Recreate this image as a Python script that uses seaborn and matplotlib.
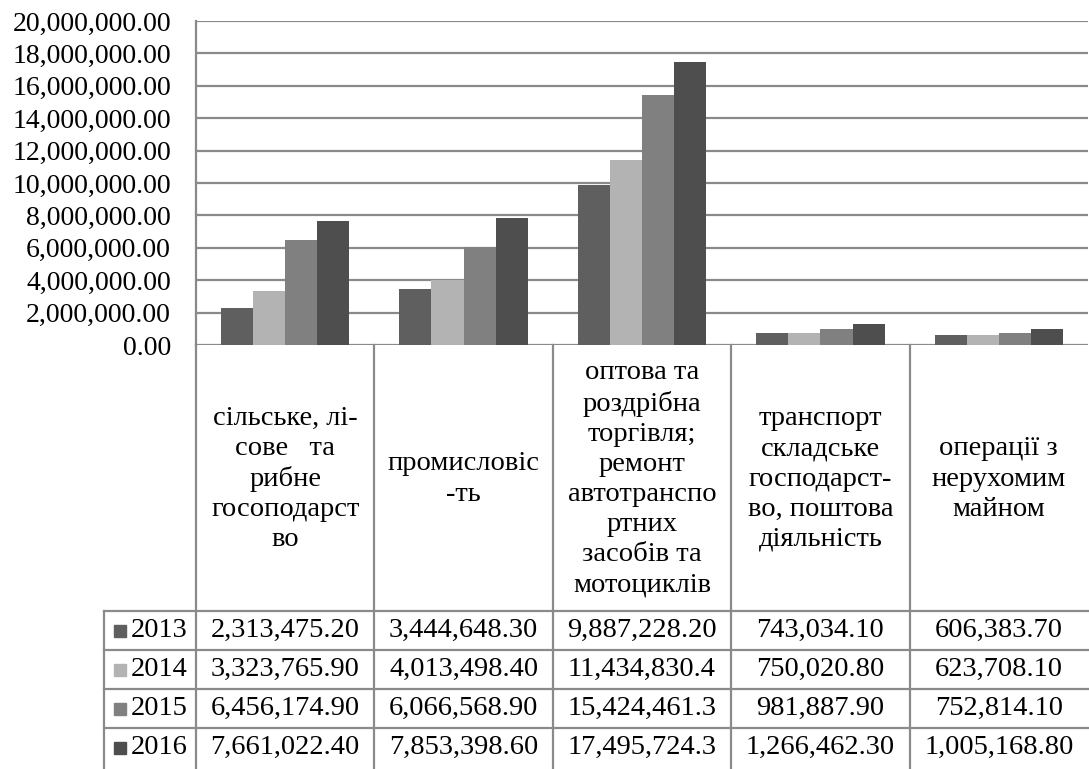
import matplotlib
matplotlib.use("Agg")
import matplotlib.pyplot as plt
import matplotlib.transforms as mtransforms
from matplotlib import font_manager
from matplotlib.ft2font import FT2Font
from matplotlib.ticker import FuncFormatter, MultipleLocator
import seaborn as sns
import pandas as pd

# ---------------- data ----------------
categories = [
    "сільське, лі-\nсове   та\nрибне\nгосоподарст\nво",
    "промисловіс\n-ть",
    "оптова та\nроздрібна\nторгівля;\nремонт\nавтотранспо\nртних\nзасобів та\nмотоциклів",
    "транспорт\nскладське\nгосподарст-\nво, поштова\nдіяльність",
    "операції з\nнерухомим\nмайном",
]
years = ["2013", "2014", "2015", "2016"]
v2013 = [2313475.20, 3444648.30, 9887228.20, 743034.10, 606383.70]
v2014 = [3323765.90, 4013498.40, 11434830.40, 750020.80, 623708.10]
v2015 = [6456174.90, 6066568.90, 15424461.30, 981887.90, 752814.10]
v2016 = [7661022.40, 7853398.60, 17495724.30, 1266462.30, 1005168.80]
series = [v2013, v2014, v2015, v2016]
colors = ["#5f5f5f", "#b3b3b3", "#808080", "#4e4e4e"]

rows = []
for y, vals in zip(years, series):
    for i, v in enumerate(vals):
        rows.append({"cat": i, "year": y, "value": v})
df = pd.DataFrame(rows)

# pick a serif family that really has Cyrillic glyphs
def has_cyr(name):
    try:
        path = font_manager.findfont(font_manager.FontProperties(family=name),
                                     fallback_to_default=False)
        f = FT2Font(path)
        return all(f.get_char_index(ord(ch)) != 0 for ch in "піїль")
    except Exception:
        return False

serif = "Liberation Serif"
for cand in ["Liberation Serif", "Tinos", "Times New Roman", "Noto Serif",
             "DejaVu Serif", "FreeSerif"]:
    if has_cyr(cand):
        serif = cand
        break

# ---------------- figure ----------------
plt.rcParams["font.family"] = [serif, "DejaVu Serif", "DejaVu Sans"]
W, H = 1089, 769
fig = plt.figure(figsize=(W / 100, H / 100), dpi=100)
ax_l, ax_r, ax_t, ax_b = 196, 1088, 21, 345
ax = fig.add_axes([ax_l / W, 1 - ax_b / H, (ax_r - ax_l) / W, (ax_b - ax_t) / H])

sns.barplot(data=df, x="cat", y="value", hue="year", palette=colors,
            width=0.72, saturation=1, ax=ax, legend=False,
            edgecolor="none", linewidth=0)

FS_TICK = 20
FS = 20.5
grid_c = "#8a8a8a"
ax.set_xlim(-0.5, len(categories) - 0.5)
ax.set_ylim(0, 20_000_000)
ax.yaxis.set_major_locator(MultipleLocator(2_000_000))
ax.yaxis.set_major_formatter(FuncFormatter(lambda v, p: f"{v:,.2f}"))
ax.yaxis.grid(True, color=grid_c, lw=1.6)
ax.set_axisbelow(True)
ax.tick_params(axis="y", length=0, pad=18, labelsize=FS_TICK, labelcolor="black")
ax.tick_params(axis="x", length=0, labelbottom=False)
ax.set_xlabel("")
ax.set_ylabel("")
for s in ["top", "right", "bottom"]:
    ax.spines[s].set_visible(False)
ax.spines["left"].set_color(grid_c)
ax.spines["left"].set_linewidth(1.6)

# ---------------- data table ----------------
ph = ax_b - ax_t  # axes height in px
def ay(py):
    return (ax_b - py) / ph

blend = mtransforms.blended_transform_factory(ax.transData, ax.transAxes)
axfrac = ax.transAxes

header_bottom = 611
row_h = 39
row_edges = [header_bottom + k * row_h for k in range(len(years) + 1)]
fig_bottom = H
leg_left = (104 - ax_l) / (ax_r - ax_l)

for i in range(len(categories)):
    ax.plot([i - 0.5, i - 0.5], [0, ay(fig_bottom)], transform=blend,
            color=grid_c, lw=1.6, clip_on=False)
ax.plot([leg_left, leg_left], [ay(header_bottom), ay(fig_bottom)],
        transform=axfrac, color=grid_c, lw=1.6, clip_on=False)
for py in row_edges[:-1]:
    ax.plot([leg_left, 1], [ay(py), ay(py)], transform=axfrac,
            color=grid_c, lw=1.6, clip_on=False)

for i, c in enumerate(categories):
    ax.text(i, ay((ax_b + header_bottom) / 2 + 1), c, transform=blend,
            ha="center", va="center", fontsize=FS, linespacing=1.27,
            multialignment="center", clip_on=False)

for r, (y, vals, col) in enumerate(zip(years, series, colors)):
    yc = ay((row_edges[r] + row_edges[r + 1]) / 2)
    for i, v in enumerate(vals):
        ax.text(i, yc, f"{v:,.2f}"[:12], transform=blend, ha="center",
                va="center", fontsize=FS, clip_on=False)
    ax.plot([(120 - ax_l) / (ax_r - ax_l)], [yc], marker="s", ms=9,
            color=col, transform=axfrac, clip_on=False)
    ax.text((131 - ax_l) / (ax_r - ax_l), yc, y, transform=axfrac,
            ha="left", va="center", fontsize=FS, clip_on=False)

fig.savefig("out.png", dpi=100)
